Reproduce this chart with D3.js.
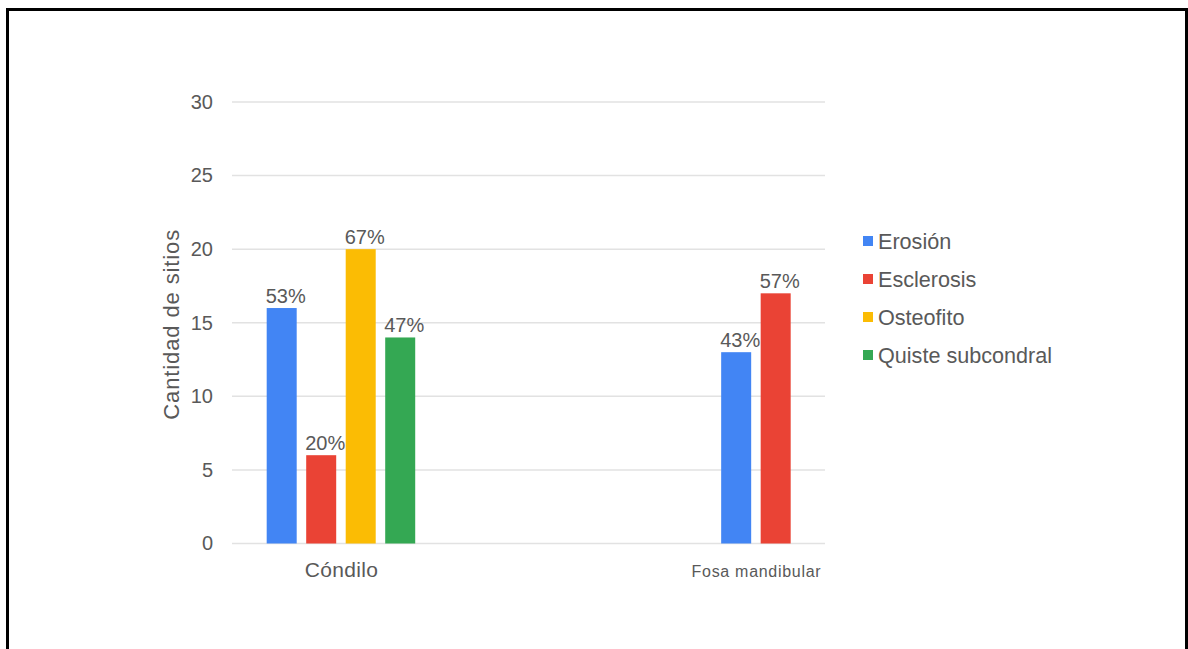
<!DOCTYPE html>
<html>
<head>
<meta charset="utf-8">
<script src="https://cdn.jsdelivr.net/npm/d3@7"></script>
<style>
  html, body { margin: 0; padding: 0; background: #fff; }
  svg { display: block; }
  text { font-family: "Liberation Sans", Arial, sans-serif; fill: #595959; }
</style>
</head>
<body>
<svg id="chart" width="1188" height="649"></svg>
<script>
const categories = ["Cóndilo", "Fosa mandibular"];
const seriesNames = ["Erosión", "Esclerosis", "Osteofito", "Quiste subcondral"];
const seriesColors = ["#4285F4", "#EA4335", "#FBBC04", "#34A853"];
const erosionValues = [16, 13];
const esclerosisValues = [6, 17];
const osteofitoValues = [20, null];
const quisteValues = [14, null];
const erosionLabels = ["53%", "43%"];
const esclerosisLabels = ["20%", "57%"];
const osteofitoLabels = ["67%", null];
const quisteLabels = ["47%", null];
const yTicks = [0, 5, 10, 15, 20, 25, 30];
const yTitle = "Cantidad de sitios";

const seriesValues = [erosionValues, esclerosisValues, osteofitoValues, quisteValues];
const seriesLabels = [erosionLabels, esclerosisLabels, osteofitoLabels, quisteLabels];

const svg = d3.select("#chart");

// frame
svg.append("rect")
  .attr("x", 7.5).attr("y", 9.5)
  .attr("width", 1179).attr("height", 700)
  .attr("fill", "none").attr("stroke", "#000").attr("stroke-width", 3);

const plot = { left: 232, right: 825, top: 102, bottom: 543.5 };

const y = d3.scaleLinear().domain([0, 30]).range([plot.bottom, plot.top]);
const x = d3.scalePoint().domain(categories).range([plot.left, plot.right]).padding(0.2145).align(0.612);

// gridlines
svg.append("g").selectAll("line").data(yTicks).join("line")
  .attr("x1", plot.left).attr("x2", plot.right)
  .attr("y1", d => y(d)).attr("y2", d => y(d))
  .attr("stroke", "#e2e2e2").attr("stroke-width", 1.5);

// y axis labels
const yAxis = d3.axisLeft(y).tickValues(yTicks).tickSize(0).tickPadding(0);
const yg = svg.append("g").attr("transform", `translate(213,0)`).call(yAxis);
yg.select(".domain").remove();
yg.selectAll("text").attr("font-size", "20px").attr("fill", "#595959")
  .style("font-family", '"Liberation Sans", Arial, sans-serif');

// y title
svg.append("text")
  .attr("transform", `translate(179,${(plot.top + plot.bottom) / 2 + 2}) rotate(-90)`)
  .attr("text-anchor", "middle")
  .attr("font-size", "22px")
  .attr("textLength", 190)
  .text(yTitle);

// x axis labels
const xAxis = d3.axisBottom(x).tickSize(0).tickPadding(0);
const xg = svg.append("g").attr("transform", `translate(0,577)`).call(xAxis);
xg.select(".domain").remove();
xg.selectAll("text")
  .attr("dy", 0)
  .style("font-family", '"Liberation Sans", Arial, sans-serif')
  .attr("fill", "#595959")
  .attr("font-size", (d, i) => i === 0 ? "21px" : "16px")
  .attr("letter-spacing", (d, i) => i === 0 ? "0.3px" : "0.7px");

// bars
const barStep = 39.5;
categories.forEach((cat, ci) => {
  const present = seriesNames.map((s, si) => si).filter(si => seriesValues[si][ci] != null);
  const inner = d3.scaleBand().domain(present)
    .range([-present.length * barStep / 2, present.length * barStep / 2])
    .paddingInner(0.2405).paddingOuter(0.12);
  const g = svg.append("g");
  present.forEach(si => {
    const v = seriesValues[si][ci];
    const bx = x(cat) + inner(si);
    g.append("rect")
      .attr("x", bx).attr("y", y(v))
      .attr("width", inner.bandwidth()).attr("height", y(0) - y(v))
      .attr("fill", seriesColors[si]);
    g.append("text")
      .attr("x", bx + inner.bandwidth() / 2 + 4)
      .attr("y", y(v) - 5)
      .attr("text-anchor", "middle")
      .attr("font-size", "20px")
      .attr("fill", "#4a4a4a")
      .text(seriesLabels[si][ci]);
  });
});

// legend
const legend = svg.append("g");
seriesNames.forEach((name, i) => {
  const cy = 241 + i * 38;
  legend.append("rect").attr("x", 863).attr("y", cy - 5).attr("width", 10).attr("height", 10)
    .attr("fill", seriesColors[i]);
  legend.append("text").attr("x", 878).attr("y", cy + 7.5)
    .attr("font-size", "21.6px").attr("fill", "#595959").text(name);
});
</script>
</body>
</html>
